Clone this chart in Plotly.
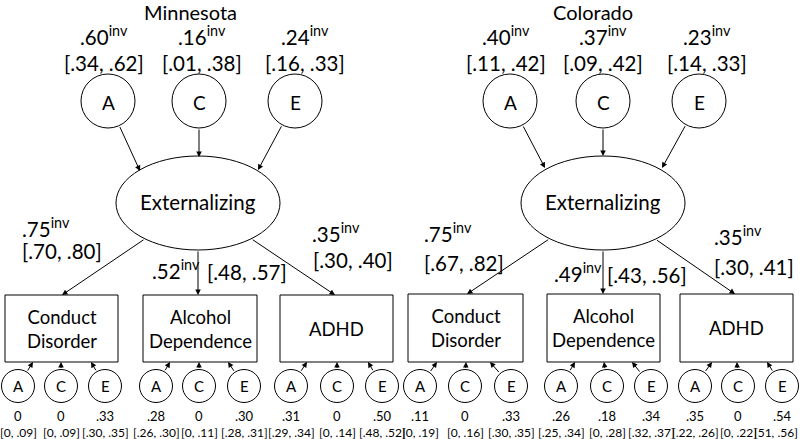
import math
import plotly.graph_objects as go

# -----------------------------
# Daten
# -----------------------------
panels = ["Minnesota", "Colorado"]
ace = ["A", "C", "E"]
indicators = ["Conduct<br>Disorder", "Alcohol<br>Dependence", "ADHD"]

mn_factor_est = [".60", ".16", ".24"]
mn_factor_ci = ["[.34, .62]", "[.01, .38]", "[.16, .33]"]
co_factor_est = [".40", ".37", ".23"]
co_factor_ci = ["[.11, .42]", "[.09, .42]", "[.14, .33]"]

mn_load_est = [".75", ".52", ".35"]
mn_load_ci = ["[.70, .80]", "[.48, .57]", "[.30, .40]"]
co_load_est = [".75", ".49", ".35"]
co_load_ci = ["[.67, .82]", "[.43, .56]", "[.30, .41]"]

mn_resid_est = ["0", "0", ".33", ".28", "0", ".30", ".31", "0", ".50"]
mn_resid_ci = ["[0, .09]", "[0, .09]", "[.30, .35]", "[.26, .30]", "[0, .11]",
               "[.28, .31]", "[.29, .34]", "[0, .14]", "[.48, .52]"]
co_resid_est = [".11", "0", ".33", ".26", ".18", ".34", ".35", "0", ".54"]
co_resid_ci = ["[0, .19]", "[0, .16]", "[.30, .35]", "[.25, .34]", "[0, .28]",
               "[.32, .37]", "[.22, .26]", "[0, .22]", "[51, .56]"]

# -----------------------------
# Layout der Knoten (Pixel)
# -----------------------------
FONT = "Lato"
W, H = 800, 439
SUP_SHIFT = 3  # Text mit <sup> sitzt tiefer, daher etwas nach oben

layout_nodes = [
    dict(title_x=190, top_x=[108, 199, 295], top_lbl_x=[104, 202, 305],
         ell=(198, 203), top_tips=[(140, 171), (199, 157), (258, 170)],
         box_tips=[(62, 295), (198, 295), (335, 295)],
         boxes=[(5, 118), (143, 257), (280, 393)], box_y=(295, 362),
         bot_x=[18, 61, 105, 156, 199, 244, 291, 337, 382],
         bot_tips=[33, 61, 91, 170, 199, 228, 307, 337, 368],
         load_pos=[[(20, 230), (20, 251)], [(150, 272), (205, 272)], [(310, 235), (311, 260)]],
         factor_est=mn_factor_est, factor_ci=mn_factor_ci,
         load_est=mn_load_est, load_ci=mn_load_ci,
         resid_est=mn_resid_est, resid_ci=mn_resid_ci),
    dict(title_x=593, top_x=[510, 603, 699], top_lbl_x=[506, 603, 707],
         ell=(603, 203), top_tips=[(545, 168), (603, 156), (662, 168)],
         box_tips=[(467, 294), (603, 294), (735, 294)],
         boxes=[(408, 523), (547, 660), (680, 793)], box_y=(294, 362),
         bot_x=[420, 465, 511, 561, 607, 651, 695, 738, 782],
         bot_tips=[437, 466, 490, 575, 604, 632, 712, 737, 767],
         load_pos=[[(422, 235), (422, 263)], [(552, 275), (605, 275)], [(712, 238), (712, 267)]],
         factor_est=co_factor_est, factor_ci=co_factor_ci,
         load_est=co_load_est, load_ci=co_load_ci,
         resid_est=co_resid_est, resid_ci=co_resid_ci),
]

TOP_Y, TOP_R = 101, 27
ELL_RX, ELL_RY = 82, 47
BOT_Y, BOT_R = 386, 16.5

fig = go.Figure()
shapes = []
annots = []


def txt(x, y, s, size, anchor="center"):
    annots.append(dict(x=x, y=y, text=s, showarrow=False, xanchor=anchor, yanchor="middle",
                       font=dict(family=FONT, size=size, color="black")))


def arrow(x0, y0, x1, y1):
    annots.append(dict(x=x1, y=y1, ax=x0, ay=y0, xref="x", yref="y", axref="x", ayref="y",
                       text="", showarrow=True, arrowhead=2, arrowsize=1.1, arrowwidth=1,
                       arrowcolor="black"))


def circle_edge(cx, cy, r, tx, ty):
    dx, dy = tx - cx, ty - cy
    d = math.hypot(dx, dy)
    return cx + r * dx / d, cy + r * dy / d


def ellipse_edge(cx, cy, tx, ty):
    dx, dy = tx - cx, ty - cy
    t = 1 / math.sqrt((dx / ELL_RX) ** 2 + (dy / ELL_RY) ** 2)
    return cx + t * dx, cy + t * dy


line = dict(color="black", width=1)

for name, p in zip(panels, layout_nodes):
    txt(p["title_x"], 11.5, name, 20)

    # A, C, E des Faktors
    for i, lab in enumerate(ace):
        cx = p["top_x"][i]
        shapes.append(dict(type="circle", x0=cx - TOP_R, x1=cx + TOP_R, y0=TOP_Y - TOP_R,
                           y1=TOP_Y + TOP_R, line=line, fillcolor="white", layer="below"))
        txt(cx, TOP_Y + 1, lab, 19)
        txt(p["top_lbl_x"][i], 38 - SUP_SHIFT, p["factor_est"][i] + "<sup>inv</sup>", 20.5)
        txt(p["top_lbl_x"][i], 63, p["factor_ci"][i], 20.5)
        tx, ty = p["top_tips"][i]
        sx, sy = circle_edge(cx, TOP_Y, TOP_R, tx, ty)
        arrow(sx, sy, tx, ty)

    # Externalizing
    ex, ey = p["ell"]
    shapes.append(dict(type="circle", x0=ex - ELL_RX, x1=ex + ELL_RX, y0=ey - ELL_RY,
                       y1=ey + ELL_RY, line=line, fillcolor="white", layer="below"))
    txt(ex, ey - 1, "Externalizing", 20.5)

    # Ladungen
    for i in range(3):
        tx, ty = p["box_tips"][i]
        sx, sy = ellipse_edge(ex, ey, tx, ty)
        arrow(sx, sy, tx, ty)
        (lx, ly), (cx2, cy2) = p["load_pos"][i]
        txt(lx, ly - SUP_SHIFT, p["load_est"][i] + "<sup>inv</sup>", 20.5, "left")
        txt(cx2, cy2, p["load_ci"][i], 20.5, "left")

    # Indikatoren
    y0, y1 = p["box_y"]
    for i, lab in enumerate(indicators):
        bx0, bx1 = p["boxes"][i]
        shapes.append(dict(type="rect", x0=bx0, x1=bx1, y0=y0, y1=y1, line=line,
                           fillcolor="white", layer="below"))
        txt((bx0 + bx1) / 2, (y0 + y1) / 2, lab, 18.5)

    # Residuale A, C, E
    for j in range(9):
        cx = p["bot_x"][j]
        shapes.append(dict(type="circle", x0=cx - BOT_R, x1=cx + BOT_R, y0=BOT_Y - BOT_R,
                           y1=BOT_Y + BOT_R, line=line, fillcolor="white", layer="below"))
        txt(cx, BOT_Y, ace[j % 3], 15)
        txt(cx, 416, p["resid_est"][j], 13)
        if cx + 20 > W:
            txt(W, 432, p["resid_ci"][j], 12, "right")
        else:
            txt(cx, 432, p["resid_ci"][j], 12)
        tx, ty = p["bot_tips"][j], y1
        sx, sy = circle_edge(cx, BOT_Y, BOT_R, tx, ty)
        arrow(sx, sy, tx, ty)

fig.update_layout(
    width=W, height=H,
    margin=dict(l=0, r=0, t=0, b=0),
    paper_bgcolor="white", plot_bgcolor="white",
    showlegend=False,
    xaxis=dict(range=[0, W], visible=False, fixedrange=True),
    yaxis=dict(range=[H, 0], visible=False, fixedrange=True),
    shapes=shapes, annotations=annots,
)

fig.write_html("out.html", config=dict(displayModeBar=False),
               post_script="document.body.style.margin='0';document.body.style.overflow='hidden';")
